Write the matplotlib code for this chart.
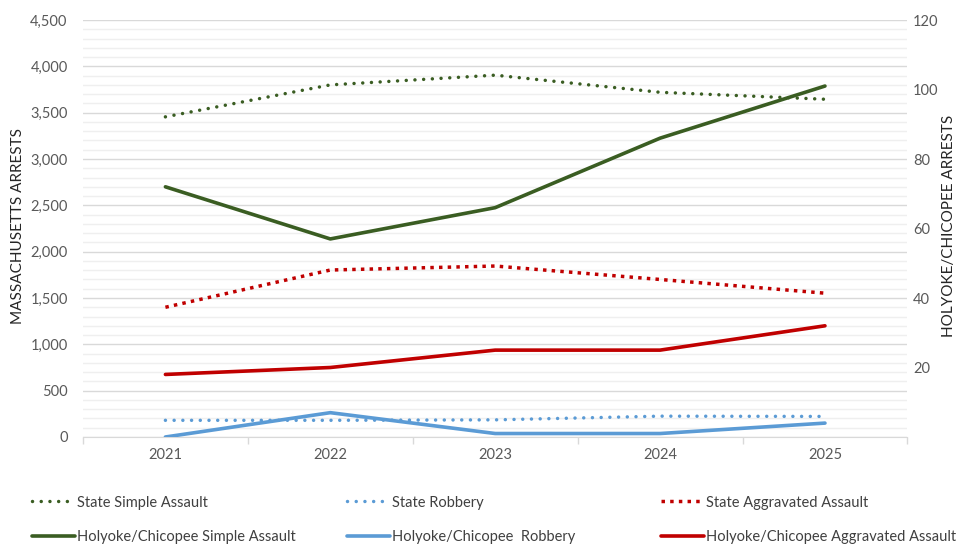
"""Massachusetts vs Holyoke/Chicopee arrests by offense, 2021-2025."""

from __future__ import annotations

import matplotlib

matplotlib.use("Agg")
import matplotlib.pyplot as plt
from matplotlib.ticker import FuncFormatter, MultipleLocator


YEARS = ["2021", "2022", "2023", "2024", "2025"]

# statewide counts (left axis)
STATE_SIMPLE_ASSAULT = [3455, 3800, 3905, 3720, 3645]
STATE_ROBBERY = [180, 180, 185, 225, 222]
STATE_AGGRAVATED_ASSAULT = [1400, 1802, 1845, 1700, 1552]

# local counts (right axis)
HC_SIMPLE_ASSAULT = [72, 57, 66, 86, 101]
HC_ROBBERY = [0, 7, 1, 1, 4]
HC_AGGRAVATED_ASSAULT = [18, 20, 25, 25, 32]

LEFT_TICKS = [0, 500, 1000, 1500, 2000, 2500, 3000, 3500, 4000, 4500]
RIGHT_TICKS = [20, 40, 60, 80, 100, 120]

GREEN = "#3A5D22"
BLUE = "#5B9BD5"
RED = "#C00000"
TICK_GREY = "#595959"
FONT = ["Lato", "DejaVu Sans"]

ROUND_DOT = (0, (0.01, 2.5))
SQUARE_DOT = (0, (1.0, 1.5))


def main() -> int:
    plt.rcParams["font.family"] = FONT
    fig = plt.figure(figsize=(9.58, 5.44), dpi=100)
    ax = fig.add_axes([0.0866, 0.1967, 0.8606, 0.7665])
    x = list(range(len(YEARS)))

    ax.set_xlim(-0.5, len(YEARS) - 0.5)
    ax.set_ylim(LEFT_TICKS[0], LEFT_TICKS[-1])
    ax.set_yticks(LEFT_TICKS)
    ax.yaxis.set_minor_locator(MultipleLocator(100))
    ax.yaxis.set_major_formatter(FuncFormatter(lambda v, _: f"{int(v):,}"))
    ax.grid(axis="y", which="major", color="#D9D9D9", linewidth=1.0)
    ax.grid(axis="y", which="minor", color="#EFEFEF", linewidth=1.0)
    ax.set_axisbelow(True)

    ax.set_xticks(x)
    ax.set_xticklabels(YEARS)
    ax.set_xticks([i - 0.5 for i in range(len(YEARS) + 1)], minor=True)
    ax.tick_params(axis="x", which="major", length=0, pad=8, labelsize=10.5, labelcolor=TICK_GREY)
    ax.tick_params(axis="x", which="minor", length=5, color="#D9D9D9", width=1)
    ax.tick_params(axis="y", which="both", length=0, pad=11, labelsize=10.5, labelcolor=TICK_GREY)
    for name in ("top", "right", "left"):
        ax.spines[name].set_visible(False)
    ax.spines["bottom"].set_color("#D9D9D9")

    lines = {}
    lines["ssa"], = ax.plot(x, STATE_SIMPLE_ASSAULT, color=GREEN, linewidth=2.5,
                            linestyle=ROUND_DOT, dash_capstyle="round",
                            label="State Simple Assault")
    lines["sr"], = ax.plot(x, STATE_ROBBERY, color=BLUE, linewidth=2.5,
                           linestyle=ROUND_DOT, dash_capstyle="round",
                           label="State Robbery")
    lines["saa"], = ax.plot(x, STATE_AGGRAVATED_ASSAULT, color=RED, linewidth=2.5,
                            linestyle=SQUARE_DOT, dash_capstyle="butt",
                            label="State Aggravated Assault")

    ax2 = ax.twinx()
    ax2.set_ylim(0, 120)
    ax2.set_yticks(RIGHT_TICKS)
    ax2.tick_params(axis="y", length=0, pad=4, labelsize=10.5, labelcolor=TICK_GREY)
    for spine in ax2.spines.values():
        spine.set_visible(False)

    lines["hsa"], = ax2.plot(x, HC_SIMPLE_ASSAULT, color=GREEN, linewidth=2.6,
                             solid_capstyle="round",
                             label="Holyoke/Chicopee Simple Assault")
    lines["hr"], = ax2.plot(x, HC_ROBBERY, color=BLUE, linewidth=2.6,
                            solid_capstyle="round",
                            label="Holyoke/Chicopee  Robbery")
    lines["haa"], = ax2.plot(x, HC_AGGRAVATED_ASSAULT, color=RED, linewidth=2.6,
                             solid_capstyle="round",
                             label="Holyoke/Chicopee Aggravated Assault")

    fig.text(0.019, 0.585, "MASSACHUSETTS ARRESTS", rotation=90, ha="center",
             va="center", fontsize=11, color="#262626")
    fig.text(0.9905, 0.585, "HOLYOKE/CHICOPEE ARRESTS", rotation=90, ha="center",
             va="center", fontsize=11, color="#262626")

    columns = [("ssa", "hsa"), ("sr", "hr"), ("saa", "haa")]
    column_x = [0.033, 0.362, 0.69]
    for keys, left in zip(columns, column_x):
        handles = [lines[k] for k in keys]
        fig.legend(
            handles=handles,
            labels=[h.get_label() for h in handles],
            loc="upper left",
            bbox_to_anchor=(left, 0.089),
            frameon=False,
            fontsize=10.5,
            handlelength=2.95,
            handletextpad=0.15,
            labelspacing=1.4,
            borderaxespad=0,
            borderpad=0,
            labelcolor="#404040",
        )

    fig.savefig("out.png", dpi=100)
    plt.close(fig)
    return 0


if __name__ == "__main__":
    raise SystemExit(main())
